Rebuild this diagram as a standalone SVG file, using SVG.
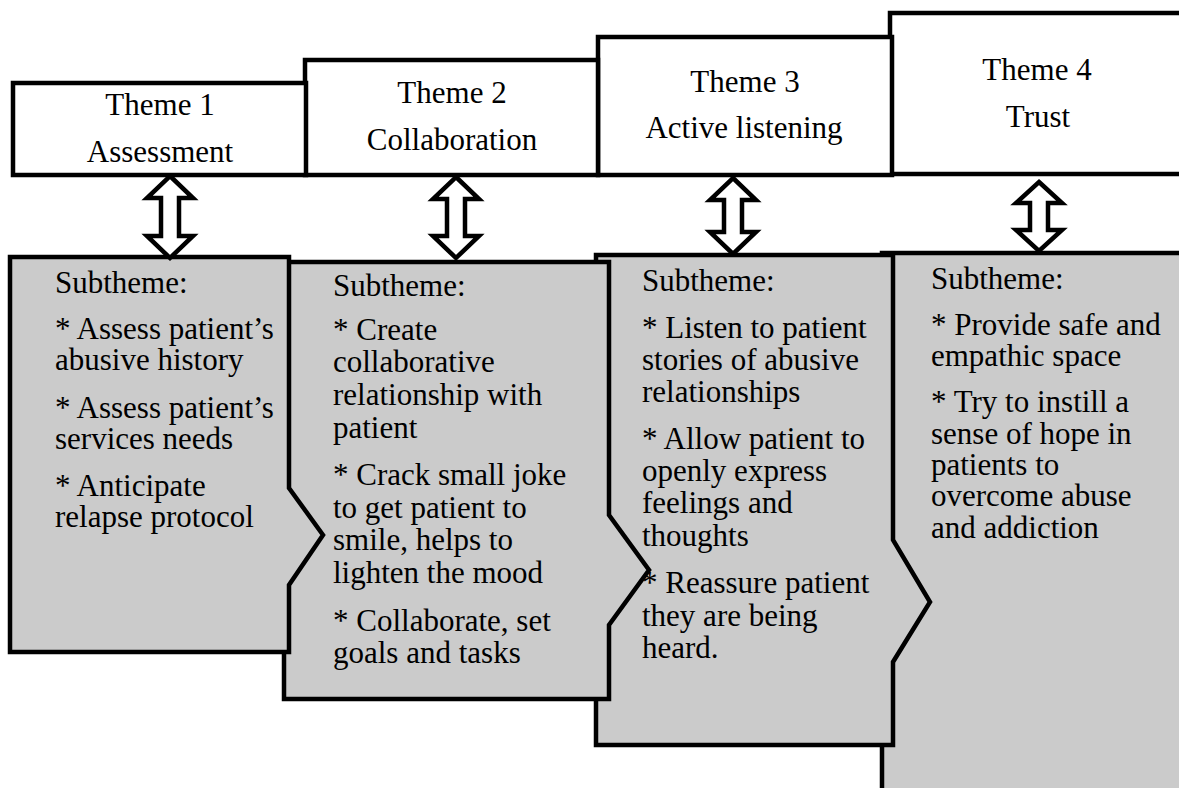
<svg xmlns="http://www.w3.org/2000/svg" width="1179" height="788" viewBox="0 0 1179 788">
<style>
.sub{fill:#cbcbcb;stroke:#000;stroke-width:4.5;stroke-linejoin:miter}
.theme{fill:#fff;stroke:#000;stroke-width:4.5}
.arr{fill:#fff;stroke:#000;stroke-width:4.5;stroke-linejoin:miter}
</style>
<rect x="0" y="0" width="1179" height="788" fill="#fff"/>
<g id="sub4">
<polygon class="sub" points="882,253 1190,253 1190,800 882,800"/>
<text font-family="Times New Roman, serif" font-size="31" x="931" y="289">Subtheme:<tspan x="931" y="335">* Provide safe and</tspan><tspan x="931" y="366">empathic space</tspan><tspan x="931" y="412">* Try to instill a</tspan><tspan x="931" y="444">sense of hope in</tspan><tspan x="931" y="475">patients to</tspan><tspan x="931" y="506">overcome abuse</tspan><tspan x="931" y="538">and addiction</tspan></text>
</g>
<g id="sub3">
<polygon class="sub" points="596,255 893,255 893,540 930,602 893,662 893,745 596,745"/>
<text font-family="Times New Roman, serif" font-size="31" x="642" y="291">Subtheme:<tspan x="642" y="338">* Listen to patient</tspan><tspan x="642" y="370">stories of abusive</tspan><tspan x="642" y="402">relationships</tspan><tspan x="642" y="449">* Allow patient to</tspan><tspan x="642" y="481">openly express</tspan><tspan x="642" y="513">feelings and</tspan><tspan x="642" y="546">thoughts</tspan><tspan x="642" y="593">* Reassure patient</tspan><tspan x="642" y="626">they are being</tspan><tspan x="642" y="658">heard.</tspan></text>
</g>
<g id="sub2">
<polygon class="sub" points="284,262 609,262 609,515 649,570 609,625 609,699 284,699"/>
<text font-family="Times New Roman, serif" font-size="31" x="333" y="296">Subtheme:<tspan x="333" y="340">* Create</tspan><tspan x="333" y="372">collaborative</tspan><tspan x="333" y="405">relationship with</tspan><tspan x="333" y="438">patient</tspan><tspan x="333" y="485">* Crack small joke</tspan><tspan x="333" y="518">to get patient to</tspan><tspan x="333" y="550">smile, helps to</tspan><tspan x="333" y="583">lighten the mood</tspan><tspan x="333" y="631">* Collaborate, set</tspan><tspan x="333" y="663">goals and tasks</tspan></text>
</g>
<g id="sub1">
<polygon class="sub" points="10,257 289,257 289,488 323,535 289,585 289,652 10,652"/>
<text font-family="Times New Roman, serif" font-size="31" x="55" y="293">Subtheme:<tspan x="55" y="339">* Assess patient’s</tspan><tspan x="55" y="370">abusive history</tspan><tspan x="55" y="418">* Assess patient’s</tspan><tspan x="55" y="449">services needs</tspan><tspan x="55" y="496">* Anticipate</tspan><tspan x="55" y="527">relapse protocol</tspan></text>
</g>
<g id="theme4">
<rect class="theme" x="890" y="13" width="300" height="161"/>
<text font-family="Times New Roman, serif" font-size="31" text-anchor="middle" x="1037" y="80">Theme 4</text>
<text font-family="Times New Roman, serif" font-size="31" text-anchor="middle" x="1038" y="127">Trust</text>
</g>
<g id="theme3">
<rect class="theme" x="598" y="37" width="294" height="138"/>
<text font-family="Times New Roman, serif" font-size="31" text-anchor="middle" x="745" y="92">Theme 3</text>
<text font-family="Times New Roman, serif" font-size="31" text-anchor="middle" x="744" y="138">Active listening</text>
</g>
<g id="theme2">
<rect class="theme" x="305" y="60" width="293" height="115"/>
<text font-family="Times New Roman, serif" font-size="31" text-anchor="middle" x="452" y="103">Theme 2</text>
<text font-family="Times New Roman, serif" font-size="31" text-anchor="middle" x="452" y="150">Collaboration</text>
</g>
<g id="theme1">
<rect class="theme" x="13" y="83" width="293" height="92"/>
<text font-family="Times New Roman, serif" font-size="31" text-anchor="middle" x="160" y="115">Theme 1</text>
<text font-family="Times New Roman, serif" font-size="31" text-anchor="middle" x="160" y="162">Assessment</text>
</g>
<g id="connectors">
<path class="arr" d="M170,176 L193,198 L179,198 L179,236 L193,236 L170,258 L147,236 L161,236 L161,198 L147,198 Z"/>
<path class="arr" d="M456,177 L479,199 L465,199 L465,236 L479,236 L456,258 L433,236 L447,236 L447,199 L433,199 Z"/>
<path class="arr" d="M733,178 L756,200 L742,200 L742,232 L756,232 L733,254 L710,232 L724,232 L724,200 L710,200 Z"/>
<path class="arr" d="M1039,182 L1062,203 L1048,203 L1048,230 L1062,230 L1039,251 L1016,230 L1030,230 L1030,203 L1016,203 Z"/>
</g>
</svg>
